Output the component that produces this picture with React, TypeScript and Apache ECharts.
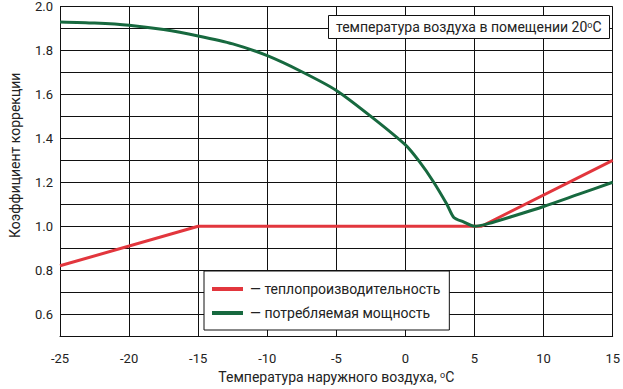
import React, { useEffect, useRef } from "react";
import * as echarts from "echarts";

const heatTemps = [-25, -15, 5.5, 15];
const heatValues = [0.82, 1.0, 1.0, 1.3];

const powerTemps = [-25, -22.5, -20, -17.5, -15, -12.5, -10, -7.5, -5, -2.5, 0, 1, 2, 3, 3.5, 4.2, 5, 6, 8, 10, 12.5, 15];
const powerValues = [1.93, 1.925, 1.915, 1.895, 1.866, 1.83, 1.776, 1.703, 1.618, 1.5, 1.37, 1.295, 1.205, 1.1, 1.04, 1.02, 1.0, 1.012, 1.05, 1.09, 1.145, 1.2];

const seriesNames = ["теплопроизводительность", "потребляемая мощность"];
const xTitle = "Температура наружного воздуха, ";
const yTitle = "Коэффициент коррекции";
const noteText = "температура воздуха в помещении 20";

const FONT = "Roboto";
const INK = "#111111";

export default function App() {
  const ref = useRef<HTMLDivElement>(null);
  useEffect(() => {
    if (!ref.current) return;
    const chart = echarts.init(ref.current, null, { renderer: "svg" });
    const red = "#e2363d";
    const green = "#17693f";
    chart.setOption({
      animation: false,
      grid: { left: 60, right: 9, top: 6, bottom: 44 },
      title: {
        left: 328,
        top: 15,
        padding: [5, 8, 5, 8],
        borderColor: INK,
        borderWidth: 1,
        backgroundColor: "#ffffff",
        text: noteText + "{sup|o}C",
        textStyle: {
          fontFamily: FONT,
          fontSize: 14,
          fontWeight: "normal",
          color: "#222222",
          rich: { sup: { fontFamily: FONT, fontSize: 9, verticalAlign: "top", color: "#222222" } },
        },
      },
      xAxis: {
        type: "value",
        min: -25,
        max: 15,
        interval: 5,
        name: xTitle + "{sup|o}C",
        nameLocation: "middle",
        nameGap: 31,
        nameTextStyle: {
          fontFamily: FONT,
          fontSize: 14,
          color: "#222222",
          rich: { sup: { fontFamily: FONT, fontSize: 9, verticalAlign: "top", color: "#222222" } },
        },
        axisLine: { show: true, lineStyle: { color: INK } },
        axisTick: { show: false },
        axisLabel: { fontFamily: FONT, fontSize: 13, color: "#222222", margin: 16 },
        splitLine: { show: true, lineStyle: { color: INK } },
      },
      yAxis: {
        type: "value",
        min: 0.5,
        max: 2.0,
        interval: 0.1,
        name: yTitle,
        nameLocation: "middle",
        nameRotate: 90,
        nameGap: 38,
        nameTextStyle: { fontFamily: FONT, fontSize: 14, color: "#222222", padding: [0, 0, 0, 32] },
        axisLine: { show: true, lineStyle: { color: INK } },
        axisTick: { show: false },
        axisLabel: {
          fontFamily: FONT,
          fontSize: 13,
          color: "#222222",
          margin: 7,
          formatter: (v: number) => (Math.round(v * 10) % 2 === 0 ? v.toFixed(1) : " "),
        },
        splitLine: { show: true, lineStyle: { color: INK } },
      },
      legend: {
        orient: "vertical",
        left: 204,
        top: 271,
        padding: [11, 9, 10, 8],
        itemGap: 10,
        itemWidth: 31,
        itemHeight: 4,
        icon: "rect",
        borderColor: INK,
        borderWidth: 1,
        backgroundColor: "#ffffff",
        data: seriesNames,
        formatter: (n: string) => "— " + n,
        textStyle: { fontFamily: FONT, fontSize: 14, color: "#222222", padding: [0, 0, 0, 2] },
      },
      series: [
        {
          type: "line",
          name: seriesNames[0],
          data: heatTemps.map((t, i) => [t, heatValues[i]]),
          showSymbol: false,
          symbol: "none",
          lineStyle: { color: red, width: 3 },
          itemStyle: { color: red },
          z: 3,
        },
        {
          type: "line",
          name: seriesNames[1],
          data: powerTemps.map((t, i) => [t, powerValues[i]]),
          showSymbol: false,
          symbol: "none",
          smooth: 0.25,
          lineStyle: { color: green, width: 3 },
          itemStyle: { color: green },
          z: 4,
        },
      ],
    });
    return () => chart.dispose();
  }, []);
  return (
    <div
      ref={ref}
      style={{ position: "fixed", left: 0, top: 0, width: 623, height: 389, background: "#ffffff" }}
    />
  );
}
